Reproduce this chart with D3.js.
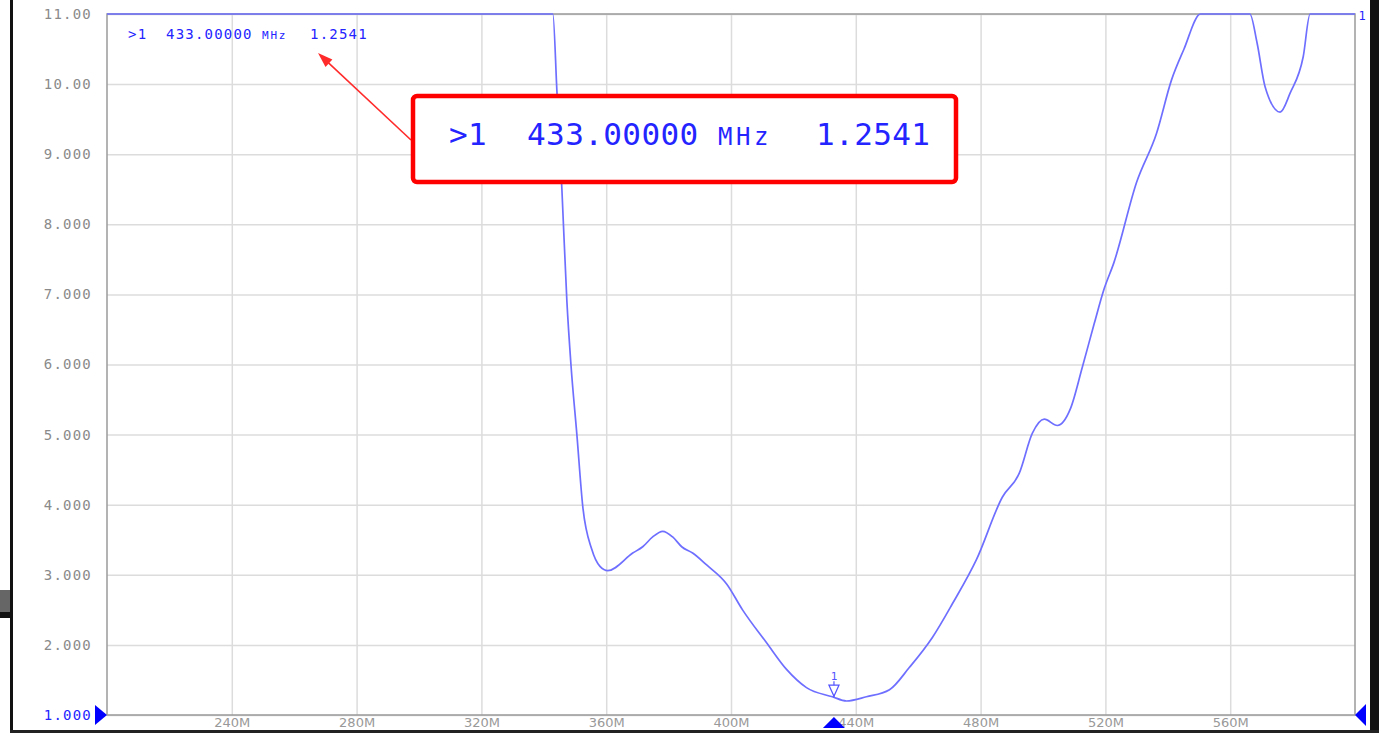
<!DOCTYPE html>
<html>
<head>
<meta charset="utf-8">
<script src="https://cdn.jsdelivr.net/npm/d3@7"></script>
<style>
  body { margin: 0; background: #fff; overflow: hidden; }
  svg { display: block; }
</style>
</head>
<body>
<script>
// SWR trace (MHz, SWR)
const freqMHz = [200, 342.9, 344.2, 345.8, 347.4, 348.7, 350.6, 352.5, 355.4, 358.0, 360.5,
    368.5, 371.7, 374.9, 378.1, 381.3, 384.2, 387.7, 392.2, 398.6, 403.7, 411.4, 417.8,
    424.2, 432.5, 437.0, 443.4, 450.8, 457.2, 464.6, 471.0, 478.7, 487.0, 492.4, 496.6,
    500.4, 504.6, 508.8, 512.6, 516.4, 519.6, 522.7, 530.0, 536.4, 541.2, 545.1, 550.5,
    566.3, 568.6, 571.2, 576.0, 579.2, 583.4, 585.6, 600];
const swrValues = [11, 11, 9.9, 8.5, 6.9, 6.0, 5.0, 3.97, 3.36, 3.12, 3.06,
    3.31, 3.40, 3.54, 3.62, 3.54, 3.40, 3.31, 3.14, 2.87, 2.50, 2.03, 1.65,
    1.39, 1.26, 1.20, 1.26, 1.36, 1.68, 2.11, 2.59, 3.22, 4.11, 4.45, 5.02,
    5.22, 5.13, 5.37, 5.96, 6.58, 7.08, 7.45, 8.6, 9.3, 10.06, 10.49, 11,
    11, 10.59, 9.96, 9.6, 9.87, 10.39, 11, 11];

const yTickValues = [1, 2, 3, 4, 5, 6, 7, 8, 9, 10, 11];
const yTickLabels = ["1.000", "2.000", "3.000", "4.000", "5.000", "6.000", "7.000", "8.000", "9.000", "10.00", "11.00"];
const xTickValues = [240, 280, 320, 360, 400, 440, 480, 520, 560];
const xTickLabels = ["240M", "280M", "320M", "360M", "400M", "440M", "480M", "520M", "560M"];

const markerNum = ">1";
const markerFreq = 433;
const markerFreqText = "433.00000";
const markerUnit = "MHz";
const markerValue = 1.2541;
const markerValueText = "1.2541";

let width = 1387,
    height = 733;

let svg = d3.select("body")
    .append("svg")
    .attr("width", width)
    .attr("height", height);

svg.append("rect")
    .attr("width", width)
    .attr("height", height)
    .attr("fill", "#fff");

let x = d3.scaleLinear().domain([200, 600]).range([107, 1355]);
let y = d3.scaleLinear().domain([1, 11]).range([715, 14]);

const gray = "#8a8a8a";
const blue = "#2424ff";
const mono = "'DejaVu Sans Mono', monospace";

// grid + x labels
let xAxis = svg.append("g")
    .attr("transform", `translate(0,${y(1)})`)
    .call(d3.axisBottom(x)
        .tickValues(xTickValues)
        .tickFormat((d, i) => xTickLabels[i])
        .tickSize(-(y(1) - y(11)))
        .tickPadding(3));
xAxis.select(".domain").remove();
xAxis.selectAll("line").attr("stroke", "#dcdcdc").attr("stroke-width", 1.5);
xAxis.selectAll("text")
    .attr("fill", "#999")
    .attr("font-family", "'DejaVu Sans', sans-serif")
    .attr("font-size", 13);

let yAxis = svg.append("g")
    .attr("transform", `translate(${x(200)},0)`)
    .call(d3.axisLeft(y)
        .tickValues(yTickValues)
        .tickFormat((d, i) => yTickLabels[i])
        .tickSize(-(x(600) - x(200)))
        .tickPadding(15));
yAxis.select(".domain").remove();
yAxis.selectAll("line").attr("stroke", "#dcdcdc").attr("stroke-width", 1.5);
yAxis.selectAll("text")
    .attr("fill", d => d === 1 ? blue : gray)
    .attr("font-family", mono)
    .attr("font-size", 14)
    .attr("letter-spacing", 1.2);

// plot border
svg.append("rect")
    .attr("x", x(200))
    .attr("y", y(11))
    .attr("width", x(600) - x(200))
    .attr("height", y(1) - y(11))
    .attr("fill", "none")
    .attr("stroke", "#9a9a9a")
    .attr("stroke-width", 1.5);

// trace
let line = d3.line()
    .x((d, i) => x(freqMHz[i]))
    .y(d => y(d))
    .curve(d3.curveMonotoneX);

svg.append("path")
    .datum(swrValues)
    .attr("d", line)
    .attr("fill", "none")
    .attr("stroke", "#6f6fff")
    .attr("stroke-width", 1.7);

// marker 1 on the trace
let mx = x(markerFreq), my = y(markerValue);
svg.append("line")
    .attr("x1", mx).attr("x2", mx)
    .attr("y1", my - 16).attr("y2", my)
    .attr("stroke", "#5555ff").attr("stroke-width", 1.2);
svg.append("path")
    .attr("d", `M${mx - 5},${my - 12}L${mx + 5},${my - 12}L${mx},${my - 1}Z`)
    .attr("fill", "#fff")
    .attr("stroke", "#5555ff")
    .attr("stroke-width", 1.3);
svg.append("text")
    .attr("x", mx).attr("y", my - 17)
    .attr("text-anchor", "middle")
    .attr("font-family", mono)
    .attr("font-size", 11)
    .attr("fill", "#5555ff")
    .text("1");

// stimulus / reference triangles
svg.append("path")
    .attr("d", `M${mx},${y(1) + 2}L${mx + 11},${y(1) + 13}L${mx - 11},${y(1) + 13}Z`)
    .attr("fill", "#0000ff");
svg.append("path")
    .attr("d", `M${x(200) - 12},${y(1) - 10}L${x(200)},${y(1)}L${x(200) - 12},${y(1) + 10}Z`)
    .attr("fill", "#0000ff");
svg.append("path")
    .attr("d", `M${x(600) + 11},${y(1) - 11}L${x(600)},${y(1)}L${x(600) + 11},${y(1) + 11}Z`)
    .attr("fill", "#0000ff");
svg.append("text")
    .attr("x", x(600) + 7).attr("y", y(11) + 6)
    .attr("text-anchor", "middle")
    .attr("font-family", mono)
    .attr("font-size", 12)
    .attr("fill", blue)
    .text("1");

// marker readout
function readout(g, xs, baseline, size, unitSize, spacing) {
    let parts = [
        [markerNum, size], [markerFreqText, size], [markerUnit, unitSize], [markerValueText, size]
    ];
    parts.forEach((p, i) => {
        g.append("text")
            .attr("x", xs[i]).attr("y", baseline)
            .attr("font-family", mono)
            .attr("font-size", p[1])
            .attr("letter-spacing", spacing[i])
            .attr("fill", blue)
            .text(p[0]);
    });
}
readout(svg.append("g"), [128, 166, 262, 310], 39, 14, 11, [1.2, 1.2, 1.8, 1.2]);

// red callout
let ax0 = 411, ay0 = 140, ax1 = 318, ay1 = 53;
let len = Math.hypot(ax1 - ax0, ay1 - ay0),
    ux = (ax1 - ax0) / len, uy = (ay1 - ay0) / len;
svg.append("line")
    .attr("x1", ax0).attr("y1", ay0)
    .attr("x2", ax1 - ux * 10).attr("y2", ay1 - uy * 10)
    .attr("stroke", "#ff2a2a").attr("stroke-width", 1.6);
svg.append("path")
    .attr("d", `M${ax1},${ay1}L${ax1 - ux * 15 - uy * 5},${ay1 - uy * 15 + ux * 5}L${ax1 - ux * 15 + uy * 5},${ay1 - uy * 15 - ux * 5}Z`)
    .attr("fill", "#ff2a2a");

svg.append("rect")
    .attr("x", 413).attr("y", 96)
    .attr("width", 543).attr("height", 86)
    .attr("rx", 4)
    .attr("fill", "#fff")
    .attr("stroke", "#ff0000")
    .attr("stroke-width", 4.5);
readout(svg.append("g"), [449, 527, 718, 816], 145, 31, 24, [0.4, 0.4, 3.5, 0.4]);

// screen frame bits
svg.append("rect").attr("x", 10).attr("y", 0).attr("width", 3).attr("height", height).attr("fill", "#111");
svg.append("rect").attr("x", 1370).attr("y", 0).attr("width", 9).attr("height", height).attr("fill", "#111");
svg.append("rect").attr("x", 10).attr("y", 730).attr("width", 1369).attr("height", 3).attr("fill", "#222");
svg.append("rect").attr("x", 0).attr("y", 590).attr("width", 10).attr("height", 22).attr("fill", "#666");
svg.append("rect").attr("x", 0).attr("y", 612).attr("width", 12).attr("height", 6).attr("fill", "#111");
</script>
</body>
</html>
